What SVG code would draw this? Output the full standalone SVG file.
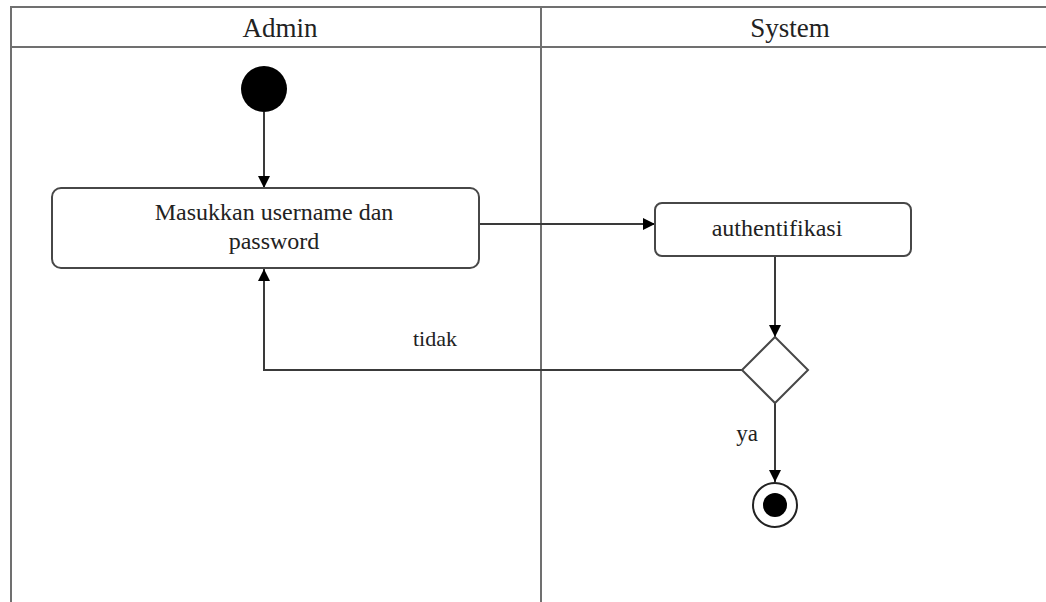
<svg xmlns="http://www.w3.org/2000/svg" width="1046" height="602" viewBox="0 0 1046 602">
  <style>
    .lane { fill: none; stroke: #707070; stroke-width: 2; }
    .act { fill: #ffffff; stroke: #474747; stroke-width: 2; }
    .flow { fill: none; stroke: #3a3a3a; stroke-width: 2; }
    .lbl { font-family: "Liberation Serif", "Times New Roman", serif; fill: #222; text-anchor: middle; }
  </style>
  <defs>
    <marker id="arrow" viewBox="0 0 12 12" refX="12" refY="6" markerWidth="12" markerHeight="12" markerUnits="userSpaceOnUse" orient="auto">
      <path d="M0,0 L12,6 L0,12 Z" fill="#000"/>
    </marker>
  </defs>

  <rect width="1046" height="602" fill="#ffffff"/>

  <!-- swimlanes -->
  <g id="lanes">
    <path class="lane" d="M1046,7 H11 V602"/>
    <path class="lane" d="M11,47 H1046"/>
    <path class="lane" d="M541,7 V602"/>
    <text class="lbl" x="280" y="37" font-size="27">Admin</text>
    <text class="lbl" x="790" y="37" font-size="27">System</text>
  </g>

  <!-- connectors -->
  <g id="connectors">
    <path class="flow" d="M264,112 V188" marker-end="url(#arrow)"/>
    <path class="flow" d="M479,224 H655" marker-end="url(#arrow)"/>
    <path class="flow" d="M775,256 V337" marker-end="url(#arrow)"/>
    <path class="flow" d="M743,370 H264 V269" marker-end="url(#arrow)"/>
    <path class="flow" d="M775,402 V482" marker-end="url(#arrow)"/>
    <text class="lbl" x="435" y="346" font-size="22">tidak</text>
    <text class="lbl" x="747" y="441" font-size="23">ya</text>
  </g>

  <g id="start">
    <circle cx="264" cy="89" r="23" fill="#000"/>
  </g>

  <g id="input">
    <rect class="act" x="52" y="188" width="427" height="80" rx="9"/>
    <text class="lbl" x="274" y="220" font-size="24">Masukkan username dan</text>
    <text class="lbl" x="274" y="249" font-size="24">password</text>
  </g>

  <g id="auth">
    <rect class="act" x="655" y="203" width="256" height="53" rx="7"/>
    <text class="lbl" x="777" y="236" font-size="24">authentifikasi</text>
  </g>

  <g id="decision">
    <path class="act" d="M775,337 L808,370 L775,403 L742,370 Z"/>
  </g>

  <g id="end">
    <circle cx="775" cy="505" r="22" fill="#fff" stroke="#222" stroke-width="2"/>
    <circle cx="775" cy="505" r="12" fill="#000"/>
  </g>
</svg>
